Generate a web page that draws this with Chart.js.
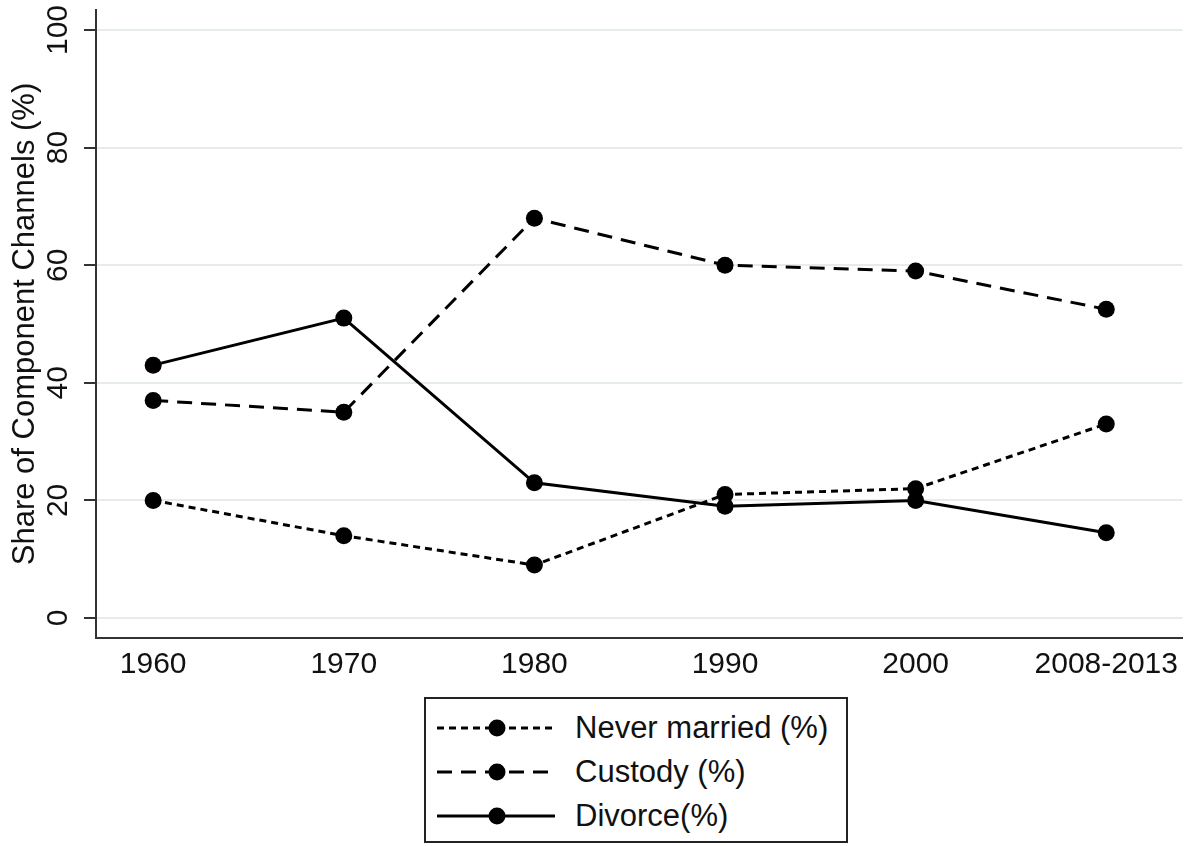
<!DOCTYPE html>
<html>
<head>
<meta charset="utf-8">
<script src="https://cdn.jsdelivr.net/npm/chart.js@4.4.1/dist/chart.umd.min.js"></script>
<style>
  body { margin: 0; background: #fff; }
  #wrap { position: relative; width: 1191px; height: 846px; }
  #legend {
    position: absolute; left: 424px; top: 697px; width: 420px; height: 142px;
    border: 2px solid #222; background: #fff;
    font-family: "Liberation Sans", Arial, sans-serif; font-size: 31px; color: #111;
  }
  .row { position: absolute; left: 0; height: 40px; display: flex; align-items: center; }
  .row svg { margin-left: 11px; margin-right: 20px; }
</style>
</head>
<body>
<div id="wrap">
  <canvas id="status"></canvas>
  <div id="legend"></div>
</div>
<script>
var years = [1960, 1970, 1980, 1990, 2000, 2010];
var xTickLabels = ['1960', '1970', '1980', '1990', '2000', '2008-2013'];
var yTicks = [0, 20, 40, 60, 80, 100];

var neverMarried = [20, 14, 9, 21, 22, 33];
var custody = [37, 35, 68, 60, 59, 52.5];
var divorce = [43, 51, 23, 19, 20, 14.5];

var seriesNames = ['Never married (%)', 'Custody (%)', 'Divorce(%)'];
var seriesDash = [[7, 5], [15, 9], []];

function toPoints(vals) {
  return vals.map(function (v, i) { return {x: years[i], y: v}; });
}

var fontFamily = '"Liberation Sans", Arial, sans-serif';

var htmlLegend = {
  id: 'htmlLegend',
  afterUpdate: function (chart) {
    var box = document.getElementById('legend');
    box.innerHTML = '';
    chart.data.datasets.forEach(function (ds, i) {
      var row = document.createElement('div');
      row.className = 'row';
      row.style.top = (9 + i * 44) + 'px';
      var dash = ds.borderDash.length ? ds.borderDash.join(',') : 'none';
      row.innerHTML =
        '<svg width="118" height="24"><line x1="0" y1="12" x2="118" y2="12" stroke="#000" stroke-width="3" stroke-dasharray="' + dash + '"/>' +
        '<circle cx="60" cy="12" r="8.5" fill="#000"/></svg>' +
        '<span>' + ds.label + '</span>';
      box.appendChild(row);
    });
  }
};

var ctx = document.getElementById('status');
var shareChart = new Chart(ctx, {
  type: 'line',
  data: {
    datasets: [neverMarried, custody, divorce].map(function (vals, i) {
      return {
        label: seriesNames[i],
        data: toPoints(vals),
        borderColor: '#000',
        backgroundColor: '#000',
        borderWidth: 3,
        borderDash: seriesDash[i],
        pointRadius: 8.5,
        pointBorderWidth: 0,
        pointBackgroundColor: '#000',
        tension: 0
      };
    })
  },
  options: {
    responsive: true,
    maintainAspectRatio: false,
    animation: false,
    layout: { padding: { top: 10, right: 6, left: 0, bottom: 0 } },
    plugins: {
      legend: { display: false },
      tooltip: { enabled: false }
    },
    scales: {
      x: {
        type: 'linear',
        min: 1957,
        max: 2014,
        afterBuildTicks: function (scale) {
          scale.ticks = years.map(function (v) { return {value: v}; });
        },
        afterFit: function (scale) {
          scale.height = 208;
          scale.paddingLeft = 0;
          scale.paddingRight = 0;
        },
        grid: { display: false, drawTicks: false },
        border: { display: true, color: '#333', width: 2 },
        ticks: {
          padding: 9,
          color: '#111',
          maxRotation: 0,
          autoSkip: false,
          font: { family: fontFamily, size: 30 },
          callback: function (v, i) { return xTickLabels[i]; }
        }
      },
      y: {
        min: -3.4,
        max: 103.4,
        afterBuildTicks: function (scale) {
          scale.ticks = yTicks.map(function (v) { return {value: v}; });
        },
        afterFit: function (scale) {
          scale.width = 96;
          scale.paddingTop = 0;
          scale.paddingBottom = 0;
        },
        grid: { color: '#e6ecee', lineWidth: 2, tickColor: '#333', tickLength: 12, drawTicks: true },
        border: { display: true, color: '#333', width: 2 },
        ticks: {
          minRotation: 90,
          maxRotation: 90,
          crossAlign: 'center',
          padding: 0,
          color: '#111',
          font: { family: fontFamily, size: 30 }
        },
        title: {
          display: true,
          text: 'Share of Component Channels (%)',
          color: '#111',
          padding: { top: 7, bottom: 0 },
          font: { family: fontFamily, size: 31 }
        }
      }
    }
  },
  plugins: [htmlLegend]
});
</script>
</body>
</html>
